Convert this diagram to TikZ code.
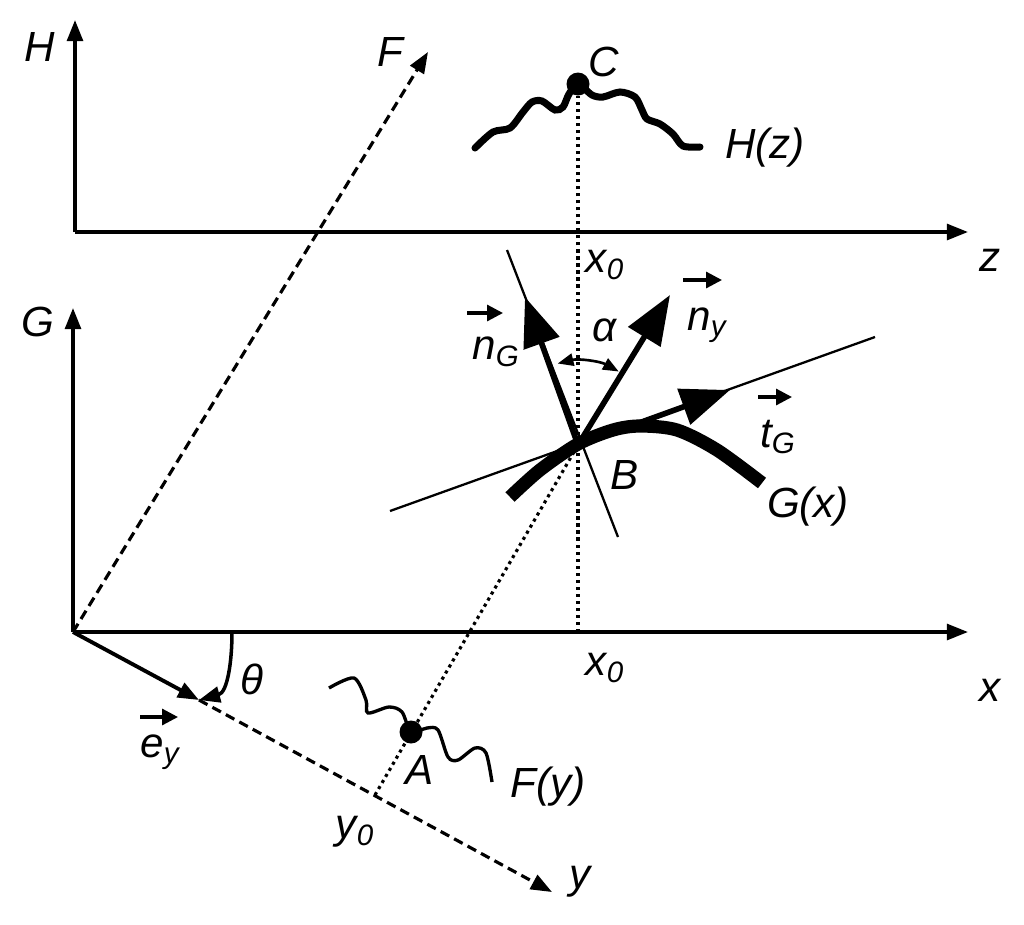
\documentclass[tikz,border=0pt]{standalone}
\usepackage{fontspec}
\setmainfont{Liberation Sans}
\usetikzlibrary{arrows.meta, positioning, calc}

\begin{document}
\begin{tikzpicture}[
  x=0.02cm, y=0.02cm,
  font=\fontsize{24}{28}\selectfont\itshape,
  axis/.style={line width=1.9pt, -{Triangle[length=12pt,width=9pt]}},
  dashaxis/.style={line width=1.8pt, dash pattern=on 5.5pt off 3.2pt, -{Triangle[length=12pt,width=9pt]}},
  proj/.style={line width=1.8pt, dash pattern=on 1.8pt off 2.2pt},
  guide/.style={line width=1.3pt},
  vecarrow/.style={line width=3.2pt, -{Triangle[length=28pt,width=21pt]}},
  labvec/.style={line width=1.8pt, -{Triangle[length=9pt,width=9pt]}},
  pointdot/.style={circle, fill, inner sep=0pt, minimum size=0.46cm},
  lbl/.style={inner sep=1pt}
]
\useasboundingbox (0,0) rectangle (1024,-924);

% axis ends and key points
\coordinate (TopOrigin) at (75,-232);
\coordinate (HTip) at (75,-20);
\coordinate (ZTip) at (968,-232);
\coordinate (Origin) at (73,-632);
\coordinate (GTip) at (73,-308);
\coordinate (XTip) at (968,-632);
\coordinate (FTip) at (428,-52);
\coordinate (YTip) at (552,-892);
\coordinate (EyTip) at (199,-700);
\coordinate (ThetaStart) at (232,-632);
\coordinate (XZero) at (578,-632);
\coordinate (YZero) at (375,-795);
\coordinate (B) at (578,-445);
\coordinate (TanStart) at (390,-511);
\coordinate (TanEnd) at (875,-337);
\coordinate (NorStart) at (507,-250);
\coordinate (NorEnd) at (618,-537);
\coordinate (TTip) at (730,-390);
\coordinate (NGTip) at (525,-297);
\coordinate (NYTip) at (670,-295);

% axes
\draw[axis] (TopOrigin) -- (HTip);
\draw[axis] (TopOrigin) -- (ZTip);
\draw[axis] (Origin) -- (GTip);
\draw[axis] (Origin) -- (XTip);
\draw[dashaxis] (Origin) -- (FTip);
\draw[dashaxis] (EyTip) -- (YTip);
\draw[axis, line width=2.2pt] (Origin) -- (EyTip);

% curves
\draw[line width=4pt, line cap=round] plot[smooth] coordinates {
  (475,-148) (493,-132) (510,-128) (523,-112) (532,-102) (542,-101)
  (555,-110) (563,-107) (569,-94) (578,-84) (592,-95) (603,-97) (620,-92)
  (635,-97) (642,-110) (647,-119) (660,-124) (673,-134) (683,-146) (700,-147)};
\node[pointdot] (C) at (578,-84) {};

\draw[line width=1.9pt] plot[smooth] coordinates {
  (329,-688) (354,-678) (366,-700) (368,-713) (389,-707) (402,-712)
  (411,-732) (427,-728) (438,-730) (448,-757) (458,-760) (475,-748)
  (486,-753) (492,-782)};
\node[pointdot] (A) at (411,-732) {};

\draw[line width=7.5pt] plot[smooth] coordinates {
  (510,-497) (540,-470) (578,-444) (613,-430) (640,-426) (677,-430)
  (717,-450) (762,-483)};

% projections
\draw[proj] (XZero) -- (C);
\draw[proj] (YZero) -- (B);

% tangent and normal
\draw[guide] (TanStart) -- (TanEnd);
\draw[guide] (NorStart) -- (NorEnd);
\draw[vecarrow] (B) -- (TTip);
\draw[vecarrow] (B) -- (NGTip);
\draw[vecarrow] (B) -- (NYTip);

% angles
\draw[line width=1.5pt, {Triangle[length=9pt,width=7pt]}-{Triangle[length=9pt,width=7pt]}]
  (B) ++(104:84) arc[start angle=104, end angle=61, radius=84];
\draw[line width=2pt, -{Triangle[length=12pt,width=9pt]}]
  (ThetaStart) to[out=-90, in=15] (EyTip);

% labels
\node[lbl] (HLab) at (40,-47) {H};
\node[lbl] (FLab) at (390,-52) {F};
\node[lbl] (CLab) at (604,-62) {C};
\node[lbl] (HzLab) at (765,-148) {H(z)};
\node[lbl] (ZLab) at (990,-260) {z};
\node[lbl] (XZeroTop) at (605,-265) {x\textsubscript{0}};
\node[lbl] (GLab) at (38,-322) {G};
\node[lbl] (NGLab) at (496,-352) {n\textsubscript{G}};
\node[lbl] (AlphaLab) at (605,-330) {α};
\node[lbl] (NYLab) at (707,-325) {n\textsubscript{y}};
\node[lbl] (TGLab) at (778,-437) {t\textsubscript{G}};
\node[lbl] (BLab) at (625,-475) {B};
\node[lbl] (GxLab) at (808,-507) {G(x)};
\node[lbl] (XLab) at (990,-690) {x};
\node[lbl] (XZeroBot) at (605,-668) {x\textsubscript{0}};
\node[lbl] (ThetaLab) at (252,-679) {θ};
\node[lbl] (EyLab) at (160,-752) {e\textsubscript{y}};
\node[lbl] (ALab) at (420,-770) {A};
\node[lbl] (FyLab) at (548,-787) {F(y)};
\node[lbl] (YZeroLab) at (355,-832) {y\textsubscript{0}};
\node[lbl] (YLab) at (580,-882) {y};

% vector bars
\draw[labvec] (467,-313) -- (503,-313);
\draw[labvec] (683,-280) -- (722,-280);
\draw[labvec] (758,-397) -- (792,-397);
\draw[labvec] (140,-717) -- (178,-717);
\end{tikzpicture}
\end{document}
